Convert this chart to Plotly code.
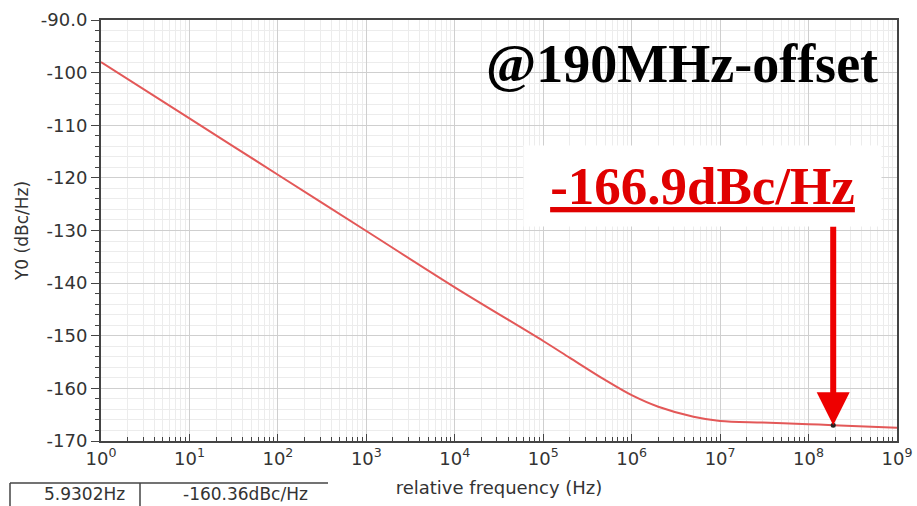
import numpy as np
import plotly.graph_objects as go

# ---- data ----
freq_hz = [1, 10, 100, 1e3, 1e4, 1e5, 2e5, 5e5, 1e6, 2e6, 5e6, 1e7, 3e7, 1e8, 1.9e8, 1e9]
noise_dbc = [-98.0, -108.7, -119.4, -130.1, -140.8, -151.0, -154.2, -158.4, -161.3,
             -163.5, -165.4, -166.2, -166.5, -166.8, -167.0, -167.5]
marker_f = [1.9e8]
marker_v = [-167.0]
x_tickvals = [1, 10, 100, 1e3, 1e4, 1e5, 1e6, 1e7, 1e8, 1e9]
x_ticktext = [f"10<sup>{i}</sup>" for i in range(10)]
y_tickvals = [-90, -100, -110, -120, -130, -140, -150, -160, -170]
y_ticktext = ["-90.0", "-100", "-110", "-120", "-130", "-140", "-150", "-160", "-170"]
offset_label = "@190MHz-offset"
value_label = "-166.9dBc/Hz"
cursor_x = "5.9302Hz"
cursor_y = "-160.36dBc/Hz"

W, H = 917, 506
L, R, T, B = 101, 20, 20, 65
pw, ph = W - L - R, H - T - B


def px(x):
    return (x - L) / pw


def py(y):
    return (H - B - y) / ph


fig = go.Figure()
fig.add_trace(go.Scatter(x=freq_hz, y=noise_dbc, mode="lines",
                         line=dict(color="#e35858", width=2, shape="spline", smoothing=0.9),
                         hoverinfo="skip", showlegend=False))
fig.add_trace(go.Scatter(x=marker_f, y=marker_v, mode="markers",
                         marker=dict(color="#222", size=5), showlegend=False))

tickfont = dict(family="DejaVu Sans", size=18, color="#333")
fig.update_layout(
    width=W, height=H, margin=dict(l=L, r=R, t=T, b=B, autoexpand=False),
    paper_bgcolor="white", plot_bgcolor="white", showlegend=False,
    xaxis=dict(type="log", range=[0, 9], tickvals=x_tickvals, ticktext=x_ticktext,
               tickfont=tickfont, ticks="inside", ticklen=7, tickcolor="#444",
               showline=True, linecolor="#444", linewidth=2, mirror=True,
               showgrid=True, gridcolor="#cfcfcf", gridwidth=1, zeroline=False,
               minor=dict(dtick="D1", ticks="inside", ticklen=4, tickcolor="#444",
                          showgrid=True, gridcolor="#ececec", gridwidth=1),
               title=dict(text="relative frequency (Hz)", standoff=14,
                          font=dict(family="DejaVu Sans", size=18, color="#333"))),
    yaxis=dict(range=[-170, -90], tickvals=y_tickvals, ticktext=y_ticktext,
               tickfont=tickfont, ticks="outside", ticklen=8, tickcolor="#444",
               showline=True, linecolor="#444", linewidth=2, mirror=True,
               showgrid=True, gridcolor="#cfcfcf", gridwidth=1, zeroline=False,
               minor=dict(dtick=2, ticks="outside", ticklen=4, tickcolor="#444",
                          showgrid=True, gridcolor="#ececec", gridwidth=1),
               title=dict(text="Y0 (dBc/Hz)", standoff=8,
                          font=dict(family="DejaVu Sans", size=17, color="#333"))),
)

fig.add_annotation(xref="paper", yref="paper", x=px(682), y=py(64), showarrow=False,
                   xanchor="center", yanchor="middle",
                   text=f"<b>{offset_label}</b>",
                   font=dict(family="Liberation Serif", size=54, color="black"))
fig.add_annotation(xref="paper", yref="paper", x=px(702.5), y=py(186), showarrow=False,
                   xanchor="center", yanchor="middle",
                   text=f"<b><u>{value_label}</u></b>", bgcolor="white",
                   width=355, height=78,
                   font=dict(family="Liberation Serif", size=53, color="#e00000"))
fig.add_annotation(x=np.log10(marker_f[0]), y=marker_v[0], text="", showarrow=True,
                   ax=0, ay=-200, arrowhead=2, arrowsize=1.1, arrowwidth=6,
                   arrowcolor="#ee0000")

# cursor readout boxes
for x0, y0, x1, y1 in [(10, 483, 328, 483), (10, 483, 10, 510), (140, 483, 140, 510)]:
    fig.add_shape(type="line", xref="paper", yref="paper", x0=px(x0), y0=py(y0),
                  x1=px(x1), y1=py(y1), line=dict(color="#444", width=1.5))
fig.add_annotation(xref="paper", yref="paper", x=px(84), y=py(494), showarrow=False,
                   xanchor="center", yanchor="middle",
                   text=cursor_x, font=dict(family="DejaVu Sans", size=17, color="#333"))
fig.add_annotation(xref="paper", yref="paper", x=px(245), y=py(494), showarrow=False,
                   xanchor="center", yanchor="middle",
                   text=cursor_y, font=dict(family="DejaVu Sans", size=17, color="#333"))

fig.write_html("out.html")
